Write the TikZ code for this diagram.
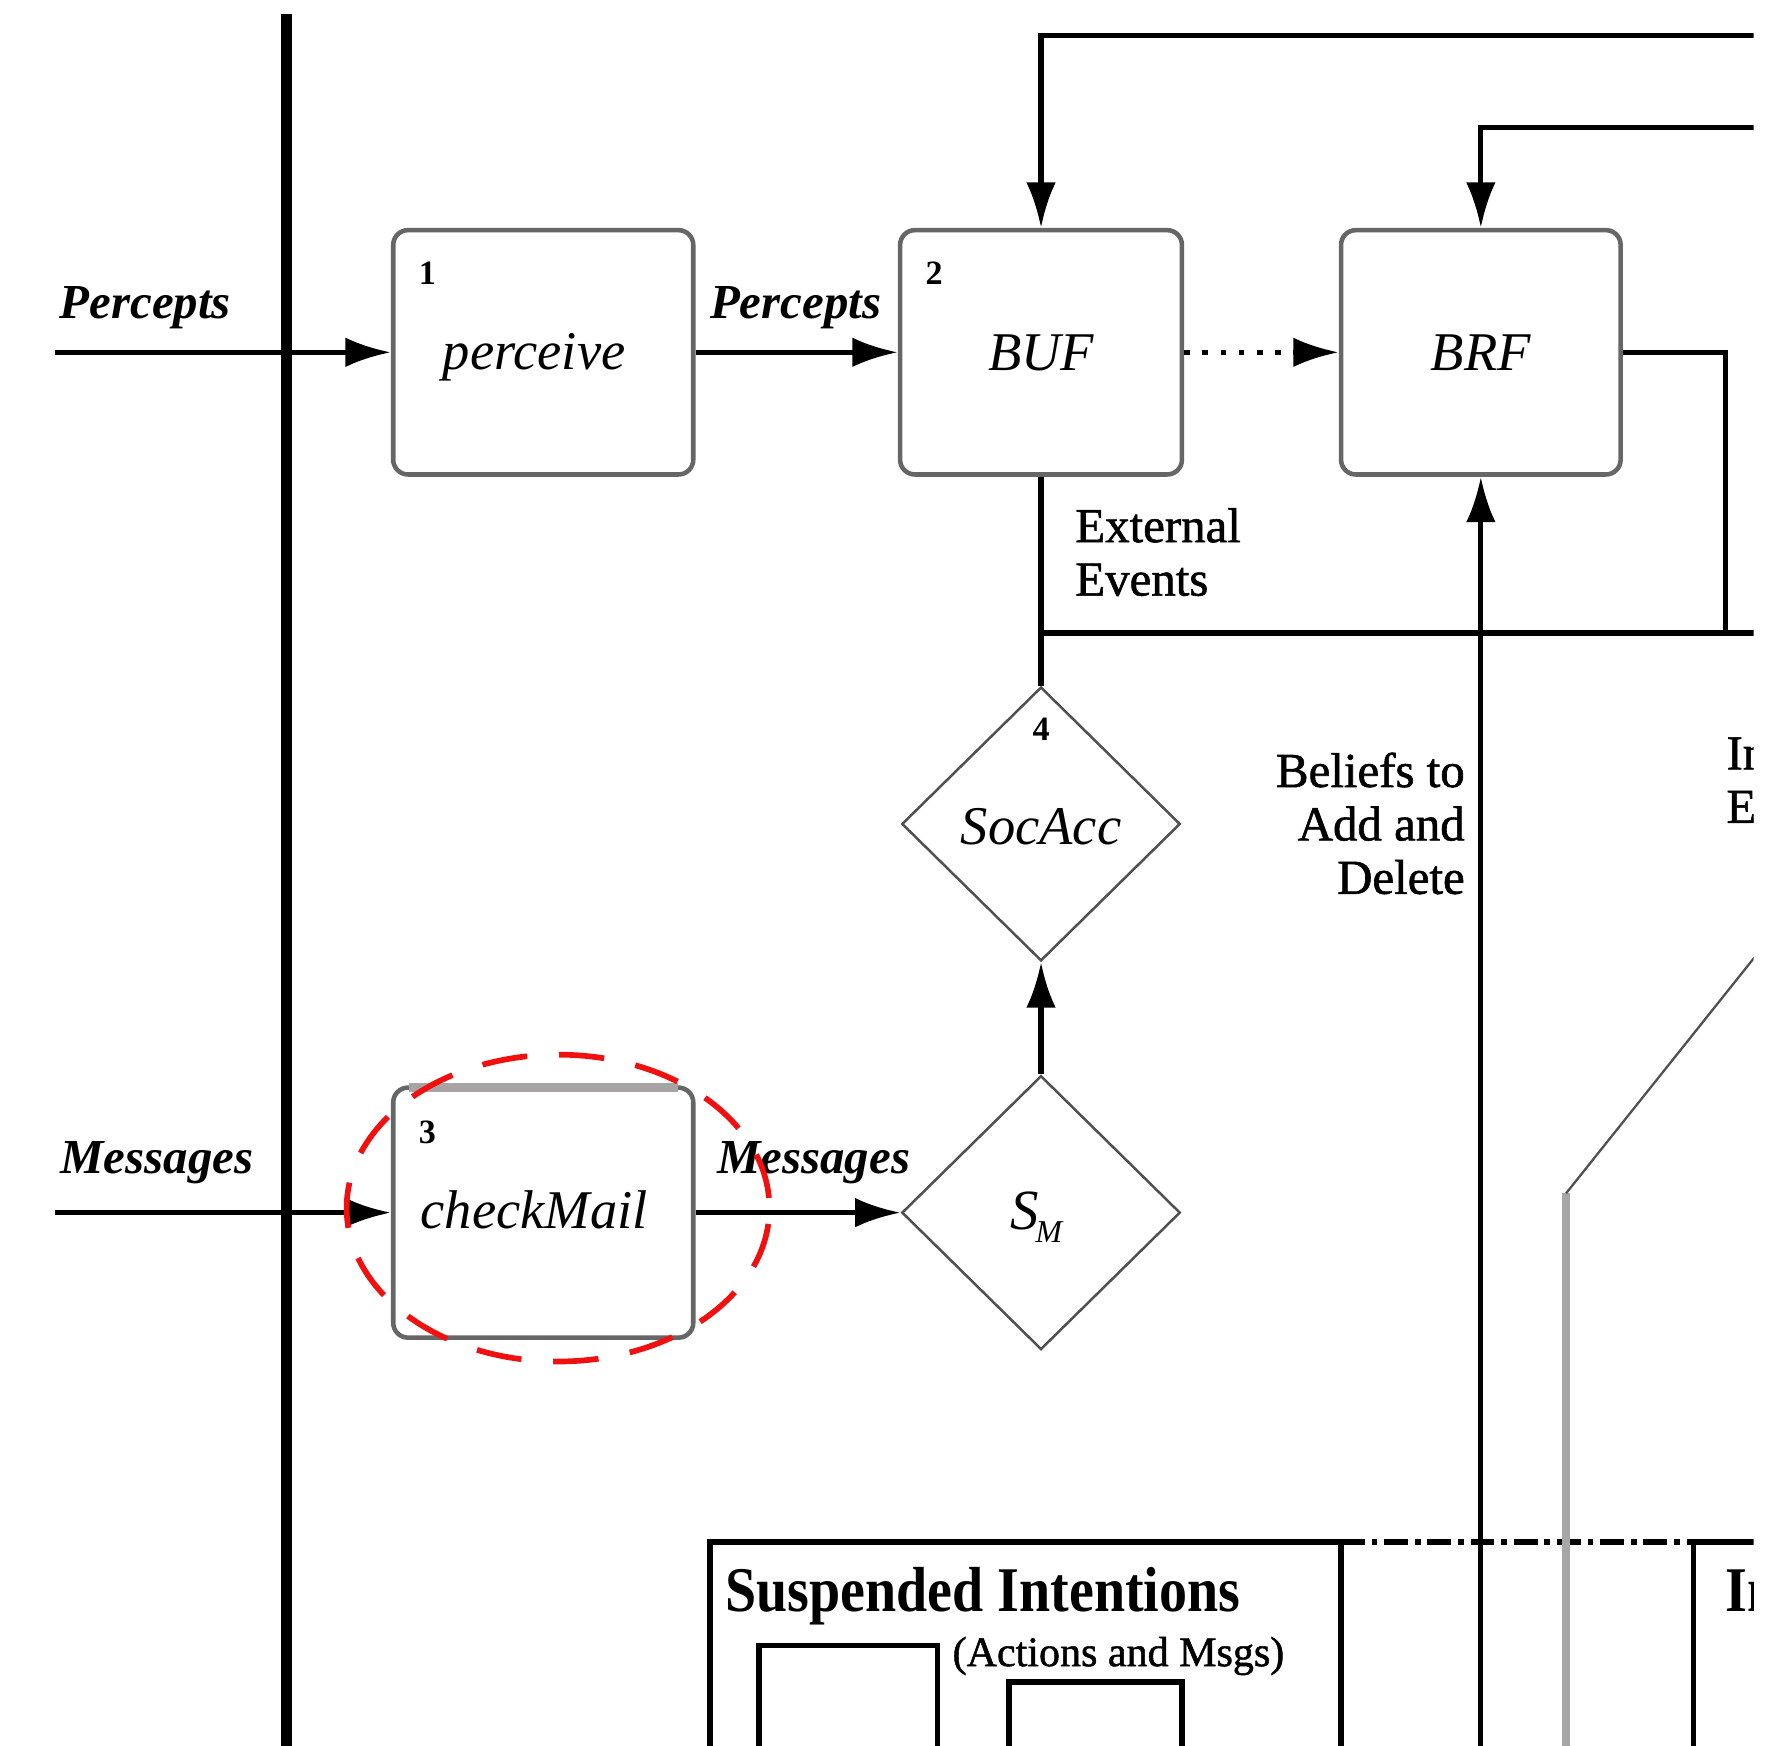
\documentclass[tikz,border=0pt]{standalone}
\usepackage{fontspec}
\setmainfont{Liberation Serif}
\newfontfamily\notefont[FakeBold=1.2]{Liberation Serif}
\newfontfamily\headfont[FakeStretch=0.88]{Liberation Serif}
\usetikzlibrary{arrows.meta,shapes.geometric}
\definecolor{boxgray}{HTML}{666666}
\definecolor{topgray}{HTML}{A8A4A4}
\definecolor{trackgray}{HTML}{A6A6A6}
\definecolor{diagray}{HTML}{505050}
\definecolor{markred}{HTML}{F01010}
\begin{document}
\begin{tikzpicture}[x=1pt,y=-1pt,
  proc/.style={draw=boxgray,line width=4pt,rounded corners=13pt,minimum height=215pt,inner sep=0pt},
  test/.style={draw=diagray,line width=2.2pt,diamond,minimum width=245pt,minimum height=241pt,inner sep=0pt},
  conn/.style={line width=4.5pt,draw=black},
  tip/.style={-{Latex[length=40pt,width=26pt]}},
  flow/.style={font=\fontsize{43}{46}\selectfont\bfseries\itshape,inner sep=0pt,anchor=base},
  fname/.style={font=\fontsize{48}{48}\selectfont\itshape,inner sep=0pt,anchor=base},
  num/.style={font=\fontsize{30}{30}\selectfont\bfseries,inner sep=0pt,anchor=base},
  note/.style={font=\fontsize{43}{47}\notefont,inner sep=0pt},
  head/.style={inner sep=0pt,anchor=base west},
]
\useasboundingbox (0,0) rectangle (1568,1536);
% the drawing ends a little short of the right border
\clip (0,0) rectangle (1543,1536);

% ---- processing steps ----
\node[proc,minimum width=264pt] (perc) at (478,310) {};
\node[proc,minimum width=248pt] (buf)  at (916,310) {};
\node[proc,minimum width=246pt] (brf)  at (1303,310) {};
\node[proc,minimum width=264pt,minimum height=220pt] (mail) at (478,1067) {};
\draw[topgray,line width=8pt] (360,957) -- (597,957);
\node[test] (soc) at (916,725) {};
\node[test] (sm)  at (916,1067) {};

\node[num] at (376,250) {1};
\node[num] at (822,250) {2};
\node[num] at (376,1006) {3};
\node[num] at (916,652) {4};
\node[fname] at (470,325) {perceive};
\node[fname] at (916,326) {BUF};
\node[fname] at (1303,326) {BRF};
\node[fname] at (470,1081) {checkMail};
\node[fname] at (916,743) {SocAcc};
\node[inner sep=0pt,anchor=base] at (912,1082)
  {\fontsize{50}{50}\selectfont\itshape S\kern-3pt\raisebox{-11pt}{\fontsize{28}{28}\selectfont M}};

% ---- boundary of the agent ----
\coordinate (wt) at (252,12);
\coordinate (wb) at (252,1545);
\draw[line width=9pt] (wt) -- (wb);

% ---- inputs ----
\coordinate (pin) at (48,310);
\coordinate (min) at (48,1067);
\draw[conn,tip] (pin) -- (perc.west);
\draw[conn,tip] (min) -- (mail.west);
\node[flow] at (128,280) {Percepts};
\node[flow] at (138,1033) {Messages};
\draw[conn,tip] (perc.east) -- (buf.west);
\node[flow] at (700,280) {Percepts};
\draw[conn,tip] (mail.east) -- (sm.west);
\node[flow] at (716,1033) {Messages};

% ---- belief update and revision ----
\draw[conn,dash pattern=on 5pt off 11pt,tip] (buf.east) -- (brf.west);
\coordinate (fb1) at (1575,31);
\coordinate (fb2) at (1575,112);
\draw[conn,tip] (fb1) -| (buf.north);
\draw[conn,tip] (fb2) -| (brf.north);
\coordinate (ej) at (1518,557);
\coordinate (ev) at (916,557);
\coordinate (ee) at (1575,557);
\draw[conn] (brf.east) -| (ej);
\draw[conn] (ev) -- (ee);
\draw[conn] (buf.south) -- (soc.north);
\draw[conn,tip] (sm.north) -- (soc.south);
\node[note,anchor=north west,align=left] at (946,447) {External\\Events};
\node[note,anchor=north east,align=right] at (1289,662) {Beliefs to\\Add and\\Delete};
\node[note,anchor=north west,align=left] at (1519,647) {Internal\\Events};

% ---- intention structures ----
\draw[conn,line width=5pt] (625,1545) |- (1180,1357) -- (1180,1545);
\draw[conn,line width=5pt,dash pattern=on 21pt off 6pt on 5pt off 6pt] (1180,1357) -- (1490,1357);
\draw[conn,line width=5pt] (1490,1545) |- (1575,1357);
\draw[conn,line width=5pt] (668,1545) |- (825,1448) -- (825,1545);
\draw[conn,line width=5pt] (888,1545) |- (1040,1480) -- (1040,1545);
\node[head,font=\fontsize{56}{56}\headfont\bfseries] at (638,1418) {Suspended Intentions};
\node[head,font=\fontsize{37}{37}\notefont] at (838,1466) {(Actions and Msgs)};
\node[head,font=\fontsize{56}{56}\headfont\bfseries] at (1518,1418) {Intentions};

\coordinate (bl) at (1303,1545);
\draw[conn,tip] (bl) -- (brf.south);

\coordinate (g0) at (1378,1545);
\coordinate (g1) at (1378,1050);
\coordinate (g2) at (1600,772);
\draw[trackgray,line width=7pt] (g0) -- (g1);
\draw[diagray,line width=2pt] (g1) -- (g2);

% ---- highlight ----
\draw[markred,line width=5pt,dash pattern=on 40pt off 28pt,dash phase=54pt]
  (491,1063) ellipse [x radius=186,y radius=135];
\end{tikzpicture}
\end{document}
